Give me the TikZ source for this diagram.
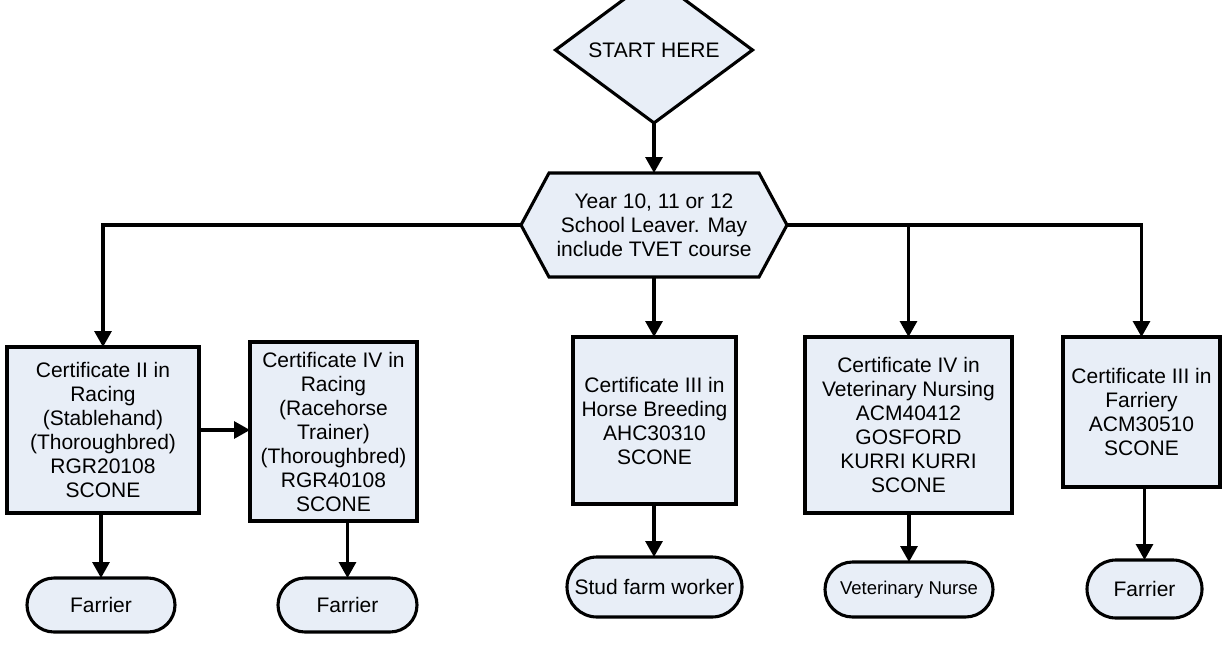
\documentclass[tikz,border=0pt]{standalone}
\usepackage{fontspec}
\setmainfont{Liberation Sans}
\usetikzlibrary{shapes.geometric,shapes.misc,arrows.meta,calc}
\definecolor{boxfill}{RGB}{232,238,247}
\begin{document}
\begin{tikzpicture}[x=1pt,y=-1pt,
  every node/.style={font=\fontsize{21}{24}\selectfont, inner sep=0pt, outer sep=0pt},
  conn/.style={line width=3.1pt, -{Triangle[length=16pt,width=17pt]}},
  cert/.style={draw, line width=3.1pt, fill=boxfill, rectangle, align=center},
  job/.style={draw, line width=3.1pt, fill=boxfill, rounded rectangle, align=center},
  startnode/.style={draw, line width=3.1pt, fill=boxfill, diamond}
]
\useasboundingbox (0,0) rectangle (1222,645);

% start
\node[startnode, minimum width=197pt, minimum height=90pt] (start) at (654,50) {START HERE};

% hexagon
\node[minimum width=266pt, minimum height=104pt, align=center] (hex) at (654,225) {};
\draw[line width=3.1pt, fill=boxfill]
  (hex.west) -- ($(hex.north west)+(28,0)$) -- ($(hex.north east)+(-28,0)$)
  -- (hex.east) -- ($(hex.south east)+(-28,0)$) -- ($(hex.south west)+(28,0)$) -- cycle;
\node[align=center] (hextext) at (hex.center) {Year 10, 11 or 12\\School Leaver. May\\include TVET course};

% certificates
\node[cert, minimum width=192pt, minimum height=166pt] (c1) at (103,430)
  {Certificate II in\\Racing\\(Stablehand)\\(Thoroughbred)\\RGR20108\\SCONE};
\node[cert, minimum width=167pt, minimum height=179pt] (c2) at (333.5,431.5)
  {Certificate IV in\\Racing\\(Racehorse\\Trainer)\\(Thoroughbred)\\RGR40108\\SCONE};
\node[cert, minimum width=163pt, minimum height=167pt] (c3) at (654.5,420.5)
  {Certificate III in\\Horse Breeding\\AHC30310\\SCONE};
\node[cert, minimum width=207pt, minimum height=176pt] (c4) at (908.5,425)
  {Certificate IV in\\Veterinary Nursing\\ACM40412\\GOSFORD\\KURRI KURRI\\SCONE};
\node[cert, minimum width=157pt, minimum height=150pt] (c5) at (1141.5,412)
  {Certificate III in\\Farriery\\ACM30510\\SCONE};

% jobs
\node[job, minimum width=148pt, minimum height=54pt] (j1) at (101,605) {Farrier};
\node[job, minimum width=139pt, minimum height=54pt] (j2) at (347.5,605) {Farrier};
\node[job, minimum width=175pt, minimum height=60pt] (j3) at (654.5,587) {Stud farm worker};
\node[job, minimum width=168pt, minimum height=55pt, font=\fontsize{18.5}{22}\selectfont] (j4) at (909,589.5) {Veterinary Nurse};
\node[job, minimum width=115pt, minimum height=58pt] (j5) at (1144.5,589) {Farrier};

% connectors
\draw[conn] (start.south) -- (hex.north);
\draw[conn] (hex.west) -| (c1.north);
\draw[conn] (hex.south) -- (hex.south |- c3.north);
\draw[conn] (hex.east) -| (c5.north);
\coordinate (b4) at (c4.north |- hex.east);
\draw[conn] (b4) -- (c4.north);
\draw[conn] (c1.east) -- (c1.east -| c2.west);
\draw[conn] (j1.north |- c1.south) -- (j1.north);
\draw[conn] (j2.north |- c2.south) -- (j2.north);
\draw[conn] (hex.south |- c3.south) -- (hex.south |- j3.north);
\draw[conn] (j4.north |- c4.south) -- (j4.north);
\draw[conn] (j5.north |- c5.south) -- (j5.north);
\end{tikzpicture}
\end{document}
